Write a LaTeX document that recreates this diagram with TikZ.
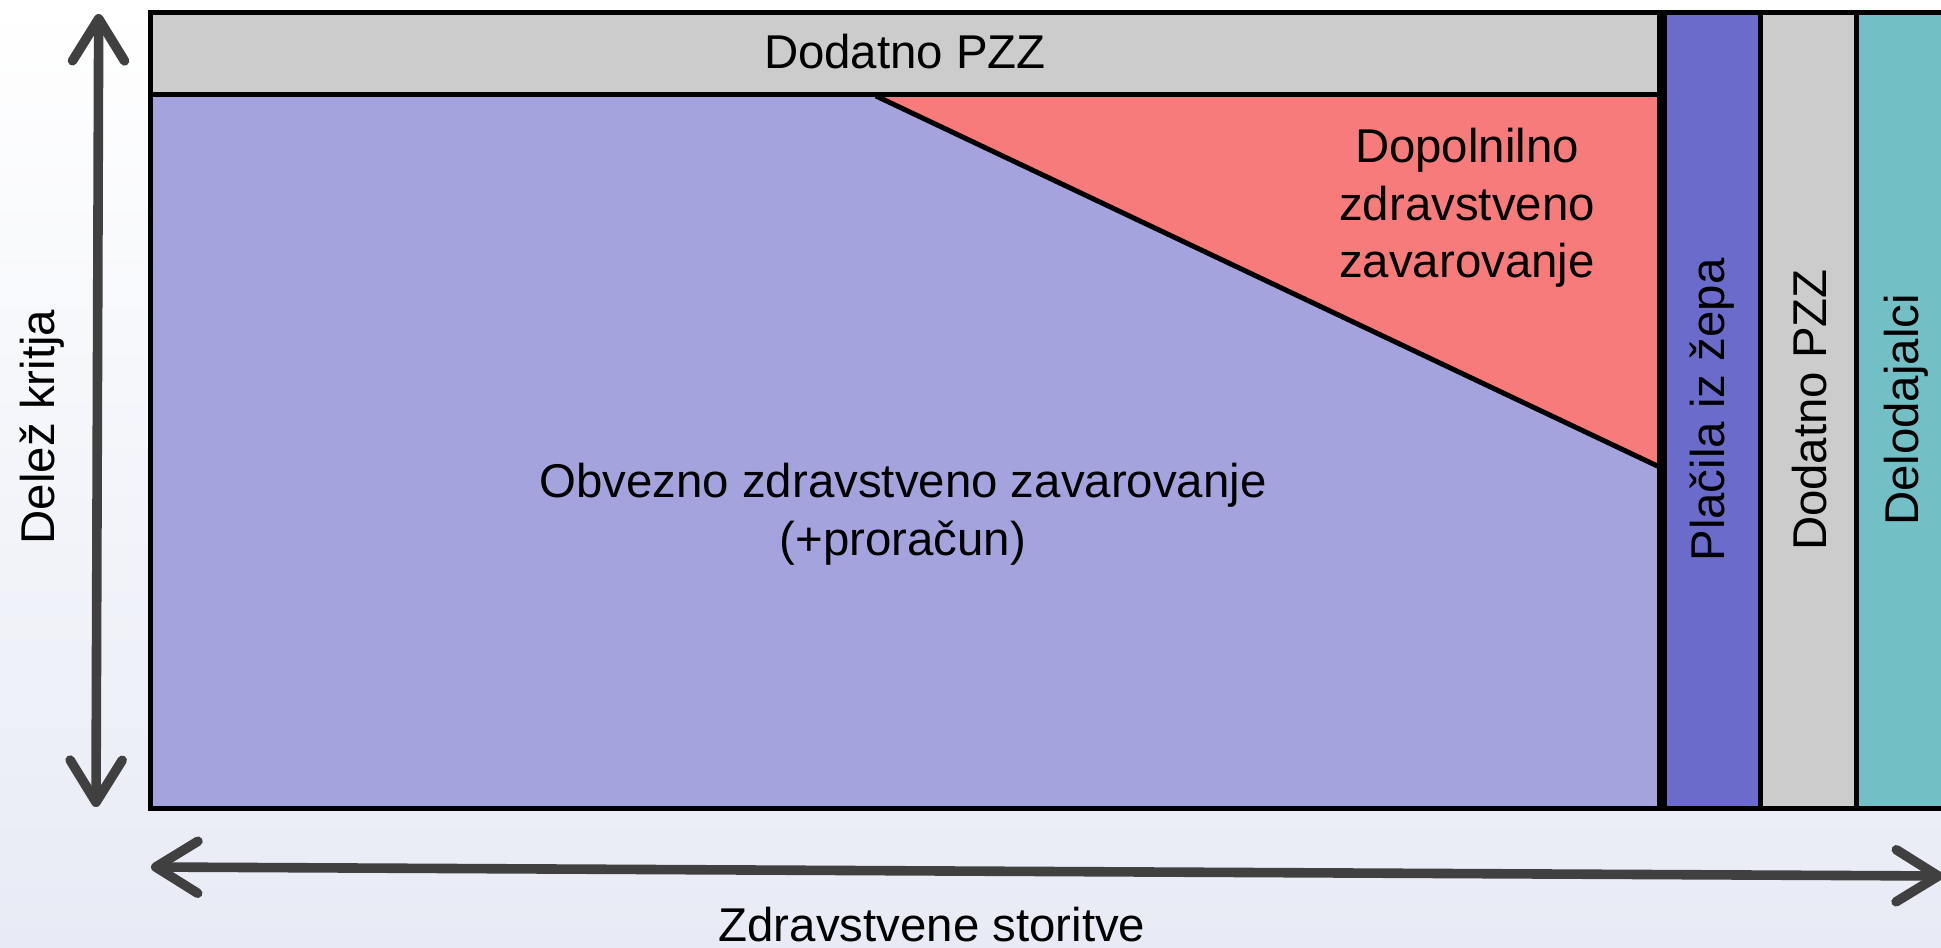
\documentclass[tikz,border=0pt]{standalone}
\usepackage{fontspec}
\setmainfont{Liberation Sans}
\usetikzlibrary{arrows.meta}
\definecolor{gband}{HTML}{CCCCCC}
\definecolor{ozz}{HTML}{A4A3DE}
\definecolor{dzz}{HTML}{F87B7B}
\definecolor{pla}{HTML}{6B6BCC}
\definecolor{tealc}{HTML}{72BFC5}
\definecolor{arrc}{HTML}{404040}
\definecolor{bgb}{HTML}{E8EBF5}
\begin{document}
\begin{tikzpicture}[x=0.5pt,y=-0.5pt,
  blk/.style={draw=black,line width=2.5pt,line join=miter},
  lbl/.style={font=\fontsize{23.7}{28.8}\selectfont,text=black,inner sep=0pt},
  arr/.style={draw=arrc,line width=4.8pt,<->,>={Straight Barb[length=21pt,width=26pt,round]}}]
\useasboundingbox (0,0) rectangle (1941,947);
\shade[top color=white,bottom color=bgb] (0,0) rectangle (1941,947);
% main block
\fill[ozz] (150,95) rectangle (1659.5,808);
\fill[dzz] (876,96) -- (1659.5,96) -- (1659.5,467) -- cycle;
\draw[blk] (150,95) rectangle (1659.5,808);
\draw[blk] (876,96) -- (1659.5,467);
\draw[blk,fill=gband] (150,12.5) rectangle (1659.5,95);
% columns
\draw[blk,fill=pla] (1664,12.5) rectangle (1760.5,808);
\draw[blk,fill=gband] (1760.5,12.5) rectangle (1856.5,808);
\draw[blk,fill=tealc] (1856.5,12.5) rectangle (1965,808);
% labels
\node[lbl] (dpzz) at (905,52) {Dodatno PZZ};
\node[lbl,align=center] (dop) at (1467,208) {Dopolnilno\\zdravstveno\\zavarovanje};
\node[lbl,align=center] (ozzt) at (903,514) {Obvezno zdravstveno zavarovanje\\(+proračun)};
\node[lbl,rotate=90] (pl) at (1712,410) {Plačila iz žepa};
\node[lbl,rotate=90] (dp2) at (1810,410) {Dodatno PZZ};
\node[lbl,rotate=90] (del) at (1906,410) {Delodajalci};
\node[lbl,rotate=90] (dk) at (42,427) {Delež kritja};
\node[lbl] (zs) at (932,925) {Zdravstvene storitve};
% axes
\coordinate (vt) at (98.7,14);
\coordinate (vb) at (96,807);
\draw[arr] (vt) -- (vb);
\coordinate (hl) at (151,867);
\coordinate (hr) at (1943,876);
\draw[arr] (hl) -- (hr);
\end{tikzpicture}
\end{document}
